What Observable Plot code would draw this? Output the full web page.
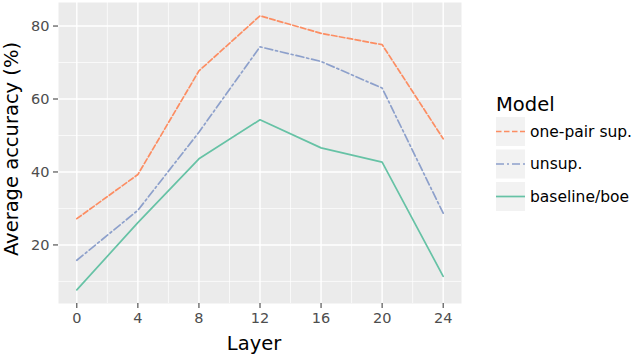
<!DOCTYPE html>
<html><head><meta charset="utf-8">
<script src="https://cdn.jsdelivr.net/npm/d3@7"></script>
<script src="https://cdn.jsdelivr.net/npm/@observablehq/plot@0.6"></script>
<style>body{margin:0;background:#fff;overflow:hidden;} svg{font-family:"DejaVu Sans",sans-serif;}</style>
</head><body><div id="chart"></div>
<script>
const layers = [0, 4, 8, 12, 16, 20, 24];
const onePairSup = [27.2, 39.3, 67.7, 82.8, 78.0, 74.9, 49.1];
const unsup = [15.8, 29.5, 50.9, 74.3, 70.3, 63.0, 28.7];
const baseline = [7.7, 26.1, 43.6, 54.3, 46.6, 42.7, 11.4];
const models = ["one-pair sup.", "unsup.", "baseline/boe"];
const seriesValues = [onePairSup, unsup, baseline];
const colors = ["#fc8d62", "#8da0cb", "#66c2a5"];
const dashes = ["5.5,2.5", "8,3,2,3", null];
const xTicks = [0, 4, 8, 12, 16, 20, 24];
const xMinor = [2, 6, 10, 14, 18, 22];
const yTicks = [20, 40, 60, 80];
const yMinor = [10, 30, 50, 70];
const xTitle = "Layer";
const yTitle = "Average accuracy (%)";
const legendTitle = "Model";

const data = models.flatMap((m, i) => layers.map((l, j) => ({layer: l, acc: seriesValues[i][j], model: m})));

const W = 632, H = 354, mL = 58, mR = 171, mT = 2, mB = 51;
const lineMarks = models.slice().reverse().map(m => {
  const i = models.indexOf(m);
  return Plot.line(data.filter(d => d.model === m), {
    x: "layer", y: "acc", stroke: colors[i], strokeWidth: 1.7,
    strokeDasharray: dashes[i] ?? undefined
  });
});

const chart = Plot.plot({
  width: W, height: H,
  marginLeft: mL, marginRight: mR, marginTop: mT, marginBottom: mB,
  style: {fontFamily: "DejaVu Sans", background: "white"},
  x: {domain: [-1.2, 25.2]},
  y: {domain: [3.95, 86.45]},
  marks: [
    Plot.frame({fill: "#ebebeb", stroke: null}),
    Plot.ruleX(xMinor, {stroke: "white", strokeWidth: 0.7}),
    Plot.ruleY(yMinor, {stroke: "white", strokeWidth: 0.7}),
    Plot.ruleX(xTicks, {stroke: "white", strokeWidth: 1.4}),
    Plot.ruleY(yTicks, {stroke: "white", strokeWidth: 1.4}),
    ...lineMarks,
    Plot.axisX(xTicks, {tickSize: 5, tickPadding: 4, fontSize: 14.5, color: "#4d4d4d", stroke: "#333", label: null}),
    Plot.axisY(yTicks, {tickSize: 5, tickPadding: 4, fontSize: 14.5, color: "#4d4d4d", stroke: "#333", label: null})
  ]
});
document.getElementById("chart").appendChild(chart);

const svg = d3.select(chart);
svg.append("text").attr("x", 254).attr("y", 350).attr("text-anchor", "middle")
  .attr("font-size", 19.5).attr("fill", "black").text(xTitle);
svg.append("text").attr("transform", "translate(18,149) rotate(-90)").attr("text-anchor", "middle")
  .attr("font-size", 19.5).attr("fill", "black").text(yTitle);

const lg = svg.append("g").attr("text-anchor", "start");
lg.append("text").attr("x", 496).attr("y", 111).attr("text-anchor", "start").attr("font-size", 19.5).attr("fill", "black").text(legendTitle);
models.forEach((m, i) => {
  const y0 = 117 + i * 32.5;
  lg.append("rect").attr("x", 496).attr("y", y0).attr("width", 29).attr("height", 29).attr("fill", "#f2f2f2");
  const ln = lg.append("line").attr("x1", 496).attr("x2", 525).attr("y1", y0 + 14.5).attr("y2", y0 + 14.5)
    .attr("stroke", colors[i]).attr("stroke-width", 1.7);
  if (dashes[i]) ln.attr("stroke-dasharray", dashes[i]);
  lg.append("text").attr("x", 530).attr("y", y0 + 14.5).attr("dy", "0.35em").attr("text-anchor", "start")
    .attr("font-size", 15.5).attr("fill", "black").text(m);
});
</script>
</body></html>
